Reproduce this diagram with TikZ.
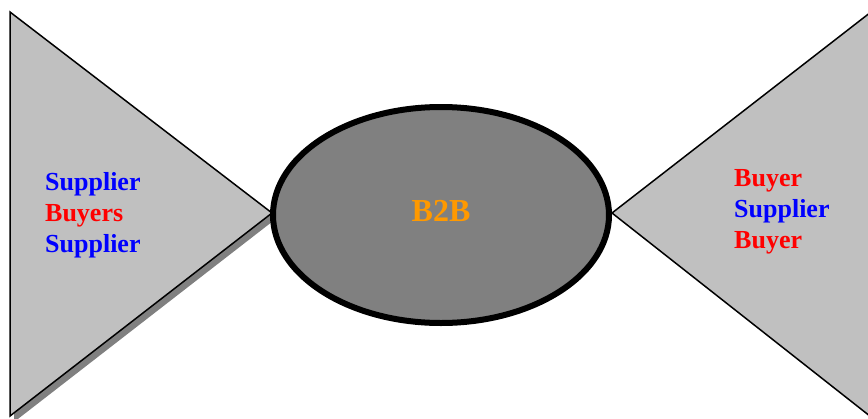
\documentclass[tikz,border=0pt]{standalone}
\usepackage{fontspec}
\usetikzlibrary{shapes.geometric}
\setmainfont{Liberation Serif}
\definecolor{tri}{HTML}{C0C0C0}
\definecolor{shad}{HTML}{808080}
\definecolor{ell}{HTML}{808080}
\definecolor{orng}{HTML}{FF9900}
\begin{document}
\begin{tikzpicture}[x=1pt,y=-1pt,
  wing/.style={fill=tri,draw=black,line width=1.5pt,line join=miter},
  lbl/.style={font=\bfseries\fontsize{26}{30.8}\selectfont,align=left,inner sep=0pt,anchor=west}]
\useasboundingbox (0,0) rectangle (868,418);
\clip (0,0) rectangle (868,418);
% left wing with shadow
\fill[shad] (14,16) -- (277,218) -- (14,422) -- cycle;
\draw[wing] (10,12) -- (272,213) -- (10,416) -- cycle;
% right wing
\draw[wing] (880,5) -- (612,213) -- (880,424) -- cycle;
% centre ellipse
\node[ellipse,draw=black,fill=ell,line width=6pt,minimum width=336pt,minimum height=216pt,inner sep=0pt] (hub) at (441,215) {};
\node[font=\bfseries\fontsize{32}{38}\selectfont,text=orng,inner sep=0pt] (b2b) at (441,211) {B2B};
\node[lbl] (left) at (45,215) {\textcolor{blue}{Supplier}\\\textcolor{red}{Buyers}\\\textcolor{blue}{Supplier}};
\node[lbl] (right) at (734,212) {\textcolor{red}{Buyer}\\\textcolor{blue}{Supplier}\\\textcolor{red}{Buyer}};
\end{tikzpicture}
\end{document}
